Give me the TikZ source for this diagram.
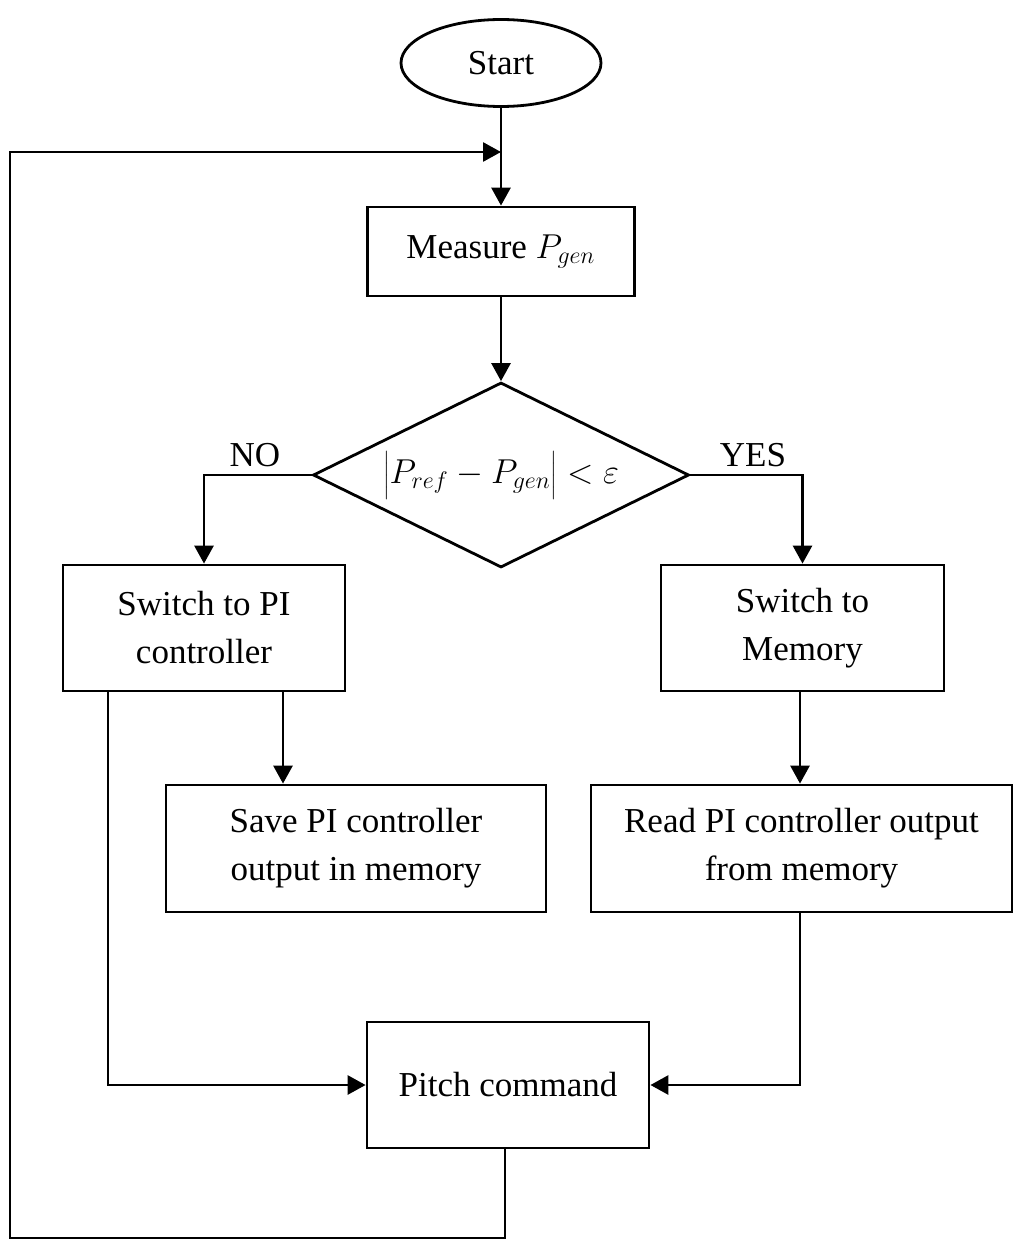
\documentclass[tikz,border=0pt]{standalone}
\usepackage{fontspec}
\setmainfont{Liberation Serif}
\usetikzlibrary{shapes.geometric,arrows.meta}
\tikzset{
  block/.style={draw, line width=1.4pt, align=center, inner sep=0pt,
    font=\fontsize{17.5}{24}\selectfont},
  line/.style={line width=1.4pt},
  arrow/.style={line, -{Triangle[length=9pt,width=9.5pt]}},
  tag/.style={font=\fontsize{17.5}{24}\selectfont},
}
\begin{document}
\begin{tikzpicture}[x=0.5pt,y=-0.5pt]
    \useasboundingbox (0,0) rectangle (1024,1247);
    \node[block, ellipse, minimum width=100pt, minimum height=43.5pt] (start) at (501,63) {Start};
    \node[block, minimum width=133.5pt, minimum height=44.5pt] (measure) at (501,251.5) {Measure $P_{gen}$};
    \node[block, diamond, shape aspect=2, minimum width=188pt, minimum height=92.5pt] (decide) at (501,475) {$\biggl|P_{ref}-P_{gen}\biggr|<\varepsilon$};
    \node[tag] (no) at (255,455) {NO};
    \node[tag] (yes) at (753,455) {YES};
    \node[block, minimum width=141pt, minimum height=63pt] (pi) at (204,628) {Switch to PI\\controller};
    \node[block, minimum width=141.5pt, minimum height=63pt] (mem) at (802.5,628) {Switch to\\Memory};
    \node[block, minimum width=190pt, minimum height=63.5pt] (save) at (356,848.5) {Save PI controller\\output in memory};
    \node[block, minimum width=210.5pt, minimum height=63.5pt] (read) at (801.5,848.5) {Read PI controller output\\from memory};
    \node[block, minimum width=141pt, minimum height=63pt] (pitch) at (508,1085) {Pitch command};
    \coordinate (loop) at (501,152);
    % main path
    \draw[arrow] (start) -- (measure);
    \draw[arrow] (measure) -- (decide);
    \draw[arrow] (decide.west) -| (pi.north);
    \draw[arrow] (decide.east) -| (mem.north);
    \draw[arrow] (pi.south -| 283,0) -- (save.north -| 283,0);
    \draw[arrow] (mem.south -| 800,0) -- (read.north -| 800,0);
    \draw[arrow] (pi.south -| 108,0) |- (pitch.west);
    \draw[arrow] (read.south -| 800,0) |- (pitch.east);
    % feedback
    \draw[arrow] (pitch.south -| 505,0) -- (505,1238) -| (10,152) -- (loop);
\end{tikzpicture}
\end{document}
